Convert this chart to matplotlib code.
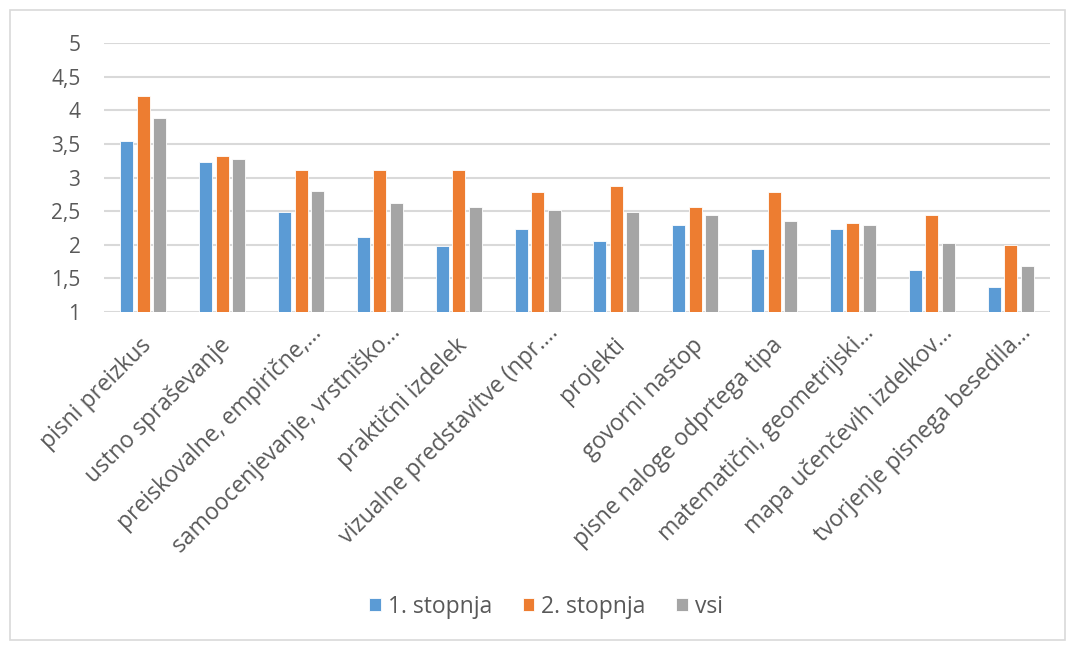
import matplotlib
matplotlib.use("Agg")
import matplotlib.pyplot as plt
import matplotlib.transforms as mtransforms
import numpy as np
from matplotlib.patches import Rectangle

plt.rcParams['font.family'] = ['Open Sans', 'DejaVu Sans']

categories = [
    "pisni preizkus",
    "ustno spraševanje",
    "preiskovalne, empirične,...",
    "samoocenjevanje, vrstniško...",
    "praktični izdelek",
    "vizualne predstavitve (npr....",
    "projekti",
    "govorni nastop",
    "pisne naloge odprtega tipa",
    "matematični, geometrijski...",
    "mapa učenčevih izdelkov...",
    "tvorjenje pisnega besedila...",
]
stopnja1 = [3.55, 3.23, 2.49, 2.12, 1.98, 2.24, 2.05, 2.30, 1.94, 2.24, 1.62, 1.37]
stopnja2 = [4.21, 3.32, 3.11, 3.11, 3.11, 2.78, 2.88, 2.56, 2.78, 2.33, 2.44, 2.00]
vsi      = [3.89, 3.28, 2.80, 2.62, 2.56, 2.52, 2.48, 2.44, 2.36, 2.29, 2.03, 1.69]
series_names = ["1. stopnja", "2. stopnja", "vsi"]
colors = ["#5B9BD5", "#ED7D31", "#A5A5A5"]
yticks = [1, 1.5, 2, 2.5, 3, 3.5, 4, 4.5, 5]
ytick_labels = ["1", "1,5", "2", "2,5", "3", "3,5", "4", "4,5", "5"]

TEXT = "#595959"
FS_TICK = 15
FS_CAT = 16.5
FS_LEG = 16.5

W, H = 1073, 648
fig = plt.figure(figsize=(W / 100, H / 100), dpi=100)

# outer chart frame
fig.patches.append(Rectangle((10 / W, 1 - 640 / H), 1055 / W, 630 / H,
                             transform=fig.transFigure, fill=False,
                             edgecolor="#D9D9D9", linewidth=1.2))

ax = fig.add_axes([104 / W, 1 - 312 / H, (1050 - 104) / W, (312 - 43) / H])

x = np.arange(len(categories))
bw = 0.165
step = 0.21
for i, (vals, name, c) in enumerate(zip([stopnja1, stopnja2, vsi], series_names, colors)):
    ax.bar(x + (i - 1) * step, np.array(vals) - 1, bottom=1, width=bw, color=c,
           edgecolor="white", linewidth=0.6, label=name, zorder=3)

ax.set_xlim(-0.5, len(categories) - 0.5)
ax.set_ylim(1, 5)
ax.set_yticks(yticks)
ax.set_yticklabels(ytick_labels)
ax.grid(axis="y", color="#D9D9D9", linewidth=1.5, zorder=0)
for s in ax.spines.values():
    s.set_visible(False)
ax.tick_params(axis="y", length=0, pad=17, labelsize=FS_TICK, labelcolor=TEXT)
ax.tick_params(axis="x", length=0, pad=0)
ax.set_xticks(x)
ax.set_xticklabels([])

# rotated category labels; a trailing ellipsis hangs past the anchor point
fig.canvas.draw()
renderer = fig.canvas.get_renderer()
probe = fig.text(0, 0, "...", fontsize=FS_CAT)
dots_w = probe.get_window_extent(renderer).width
probe.remove()
c45 = np.cos(np.deg2rad(45))
for xi, lab in zip(x, categories):
    dx, dy = 5, -30
    if lab.endswith("..."):
        dx += dots_w * c45
        dy += dots_w * c45
    off = mtransforms.ScaledTranslation(dx / 100, dy / 100, fig.dpi_scale_trans)
    tr = mtransforms.blended_transform_factory(ax.transData, ax.transAxes) + off
    ax.text(xi, 0, lab, transform=tr, rotation=45, rotation_mode="anchor",
            ha="right", va="center", fontsize=FS_CAT, color=TEXT)

fig.legend(loc="center", bbox_to_anchor=(546 / W, 1 - 607 / H), ncol=3,
           frameon=False, fontsize=FS_LEG, handlelength=0.5, handleheight=0.5,
           handletextpad=0.3, columnspacing=1.35, labelcolor=TEXT)

fig.savefig("out.png", dpi=100)
